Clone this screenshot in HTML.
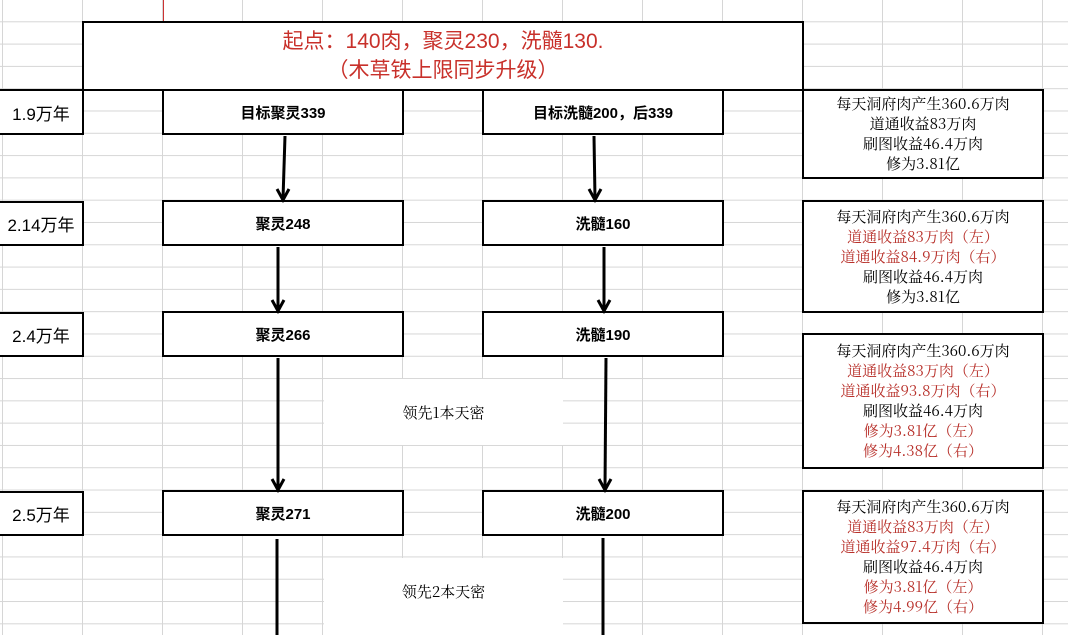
<!DOCTYPE html>
<html><head><meta charset="utf-8"><style>
body{margin:0;width:1068px;height:635px;overflow:hidden;position:relative;background:#fff;
background-image:repeating-linear-gradient(to bottom,transparent 0,transparent 21.3px,#d6d6d6 21.3px,#d6d6d6 22.3px),repeating-linear-gradient(to right,transparent 0,transparent 2px,#d6d6d6 2px,#d6d6d6 3px,transparent 3px,transparent 80px);
background-size:100% 22.3px,80px 100%;
font-family:"Liberation Sans","Noto Sans CJK SC",sans-serif;}
.b{position:absolute;background:#fff;border:2px solid #000;box-sizing:border-box;display:flex;align-items:center;justify-content:center;text-align:center}
.n{font-weight:bold;font-size:15px}
.l{font-size:17px}
.i{flex-direction:column;font-size:15px;line-height:20px;font-family:"Noto Serif CJK SC",serif}
.r{color:#b8312b}
.w{position:absolute;background:#fff;font-size:15px;display:flex;align-items:center;justify-content:center;font-family:"Noto Serif CJK SC",serif}
</style></head><body>
<div style="position:absolute;left:163px;top:0;width:1px;height:22px;background:#c33"></div>
<div class="w" style="left:324px;top:379px;width:239px;height:66px">领先1本天密</div>
<div class="w" style="left:324px;top:558px;width:239px;height:77px;padding-bottom:10px;box-sizing:border-box">领先2本天密</div>
<div class="b" style="left:82px;top:21px;width:722px;height:70px;flex-direction:column;color:#c8302a;font-size:21px;line-height:29px">起点：140肉，聚灵230，洗髓130.<span>（木草铁上限同步升级）</span></div>
<div class="b l" style="left:-2px;top:89px;width:86px;height:46px">1.9万年</div>
<div class="b l" style="left:-2px;top:201px;width:86px;height:45px">2.14万年</div>
<div class="b l" style="left:-2px;top:312px;width:86px;height:45px">2.4万年</div>
<div class="b l" style="left:-2px;top:491px;width:86px;height:45px">2.5万年</div>
<div class="b n" style="left:162px;top:89px;width:242px;height:46px">目标聚灵339</div>
<div class="b n" style="left:482px;top:89px;width:242px;height:46px">目标洗髓200，后339</div>
<div class="b n" style="left:162px;top:200px;width:242px;height:46px">聚灵248</div>
<div class="b n" style="left:482px;top:200px;width:242px;height:46px">洗髓160</div>
<div class="b n" style="left:162px;top:311px;width:242px;height:46px">聚灵266</div>
<div class="b n" style="left:482px;top:311px;width:242px;height:46px">洗髓190</div>
<div class="b n" style="left:162px;top:490px;width:242px;height:46px">聚灵271</div>
<div class="b n" style="left:482px;top:490px;width:242px;height:46px">洗髓200</div>
<div class="b i" style="left:802px;top:89px;width:242px;height:90px">每天洞府肉产生360.6万肉<span>道通收益83万肉</span><span>刷图收益46.4万肉</span><span>修为3.81亿</span></div>
<div class="b i" style="left:802px;top:200px;width:242px;height:113px">每天洞府肉产生360.6万肉<span class="r">道通收益83万肉（左）</span><span class="r">道通收益84.9万肉（右）</span><span>刷图收益46.4万肉</span><span>修为3.81亿</span></div>
<div class="b i" style="left:802px;top:333px;width:242px;height:136px">每天洞府肉产生360.6万肉<span class="r">道通收益83万肉（左）</span><span class="r">道通收益93.8万肉（右）</span><span>刷图收益46.4万肉</span><span class="r">修为3.81亿（左）</span><span class="r">修为4.38亿（右）</span></div>
<div class="b i" style="left:802px;top:490px;width:242px;height:134px">每天洞府肉产生360.6万肉<span class="r">道通收益83万肉（左）</span><span class="r">道通收益97.4万肉（右）</span><span>刷图收益46.4万肉</span><span class="r">修为3.81亿（左）</span><span class="r">修为4.99亿（右）</span></div>
<svg style="position:absolute;left:0;top:0" width="1068" height="635">
<g stroke="#000" stroke-width="3" fill="none">
<line x1="285" y1="136" x2="283" y2="199"/><polyline points="277,189 283,200 289,189"/>
<line x1="278" y1="247" x2="278" y2="310"/><polyline points="272,300 278,311 284,300"/>
<line x1="278" y1="358" x2="278" y2="489"/><polyline points="272,479 278,490 284,479"/>
<line x1="277" y1="539" x2="277" y2="635"/>
<line x1="594" y1="136" x2="595" y2="199"/><polyline points="589,189 595,200 601,189"/>
<line x1="604" y1="247" x2="604" y2="310"/><polyline points="598,300 604,311 610,300"/>
<line x1="606" y1="358" x2="605" y2="489"/><polyline points="599,479 605,490 611,479"/>
<line x1="603" y1="538" x2="603" y2="635"/>
</g></svg>
</body></html>
